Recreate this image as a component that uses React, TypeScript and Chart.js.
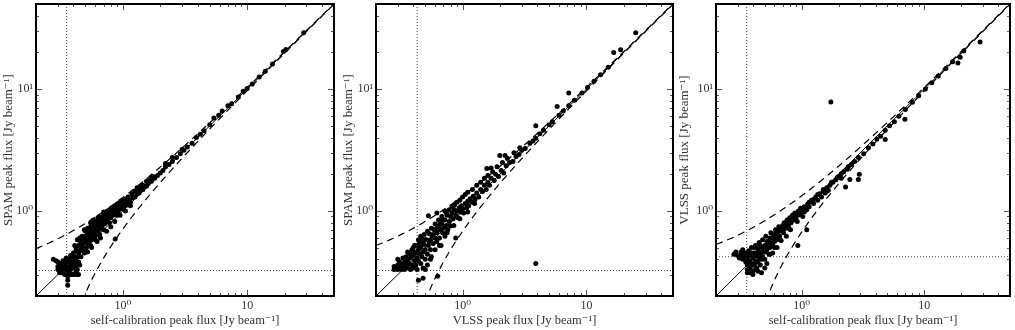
import React, { useEffect, useRef } from "react";
import { Chart, registerables } from "chart.js";

Chart.register(...registerables);

const AXIS_MIN = 0.2;
const AXIS_MAX = 50;
const MAJOR_TICKS = [1, 10];
const X_TICK_LABELS = ["10⁰", "10"];
const Y_TICK_LABELS = ["10⁰", "10¹"];
const MINOR_TICKS = [0.2, 0.3, 0.4, 0.5, 0.6, 0.7, 0.8, 0.9, 2, 3, 4, 5, 6, 7, 8, 9, 20, 30, 40, 50];

// Panel 1: self-calibration (x) vs SPAM (y)
const SELFCAL_VS_SPAM: number[][] = [
  [0.276, 0.4], [0.29, 0.39], [0.3, 0.35], [0.3, 0.33], [0.3, 0.38], [0.31, 0.36], [0.31, 0.34], [0.31, 0.31],
  [0.32, 0.37], [0.32, 0.33], [0.32, 0.31], [0.33, 0.35], [0.33, 0.39], [0.33, 0.37], [0.34, 0.33], [0.34, 0.36],
  [0.34, 0.3], [0.34, 0.34], [0.35, 0.34], [0.35, 0.38], [0.35, 0.41], [0.36, 0.32], [0.36, 0.29], [0.36, 0.27],
  [0.36, 0.245], [0.36, 0.38], [0.37, 0.35], [0.37, 0.31], [0.37, 0.4], [0.37, 0.34], [0.38, 0.33], [0.38, 0.37],
  [0.38, 0.43], [0.38, 0.3], [0.38, 0.39], [0.39, 0.35], [0.39, 0.3], [0.39, 0.42], [0.4, 0.38], [0.4, 0.3],
  [0.4, 0.45], [0.4, 0.36], [0.41, 0.34], [0.41, 0.3], [0.41, 0.52], [0.41, 0.42], [0.42, 0.4], [0.42, 0.36],
  [0.42, 0.47], [0.42, 0.32], [0.42, 0.5], [0.43, 0.3], [0.43, 0.33], [0.43, 0.58], [0.44, 0.42], [0.44, 0.38],
  [0.44, 0.3], [0.44, 0.45], [0.44, 0.52], [0.45, 0.47], [0.45, 0.36], [0.45, 0.6], [0.45, 0.53], [0.46, 0.52],
  [0.46, 0.42], [0.46, 0.48], [0.46, 0.57], [0.47, 0.56], [0.47, 0.47], [0.47, 0.62], [0.47, 0.52], [0.48, 0.5],
  [0.48, 0.6], [0.48, 0.55], [0.49, 0.45], [0.49, 0.58], [0.49, 0.7], [0.5, 0.55], [0.5, 0.62], [0.5, 0.68],
  [0.5, 0.48], [0.51, 0.5], [0.52, 0.58], [0.52, 0.66], [0.52, 0.72], [0.52, 0.46], [0.53, 0.53], [0.53, 0.6],
  [0.54, 0.62], [0.55, 0.57], [0.55, 0.68], [0.55, 0.74], [0.55, 0.52], [0.55, 0.8], [0.56, 0.64], [0.56, 0.5],
  [0.57, 0.6], [0.57, 0.68], [0.58, 0.7], [0.58, 0.78], [0.58, 0.84], [0.59, 0.65], [0.6, 0.62], [0.6, 0.74],
  [0.6, 0.82], [0.6, 0.58], [0.61, 0.72], [0.62, 0.68], [0.62, 0.8], [0.62, 0.56], [0.63, 0.75], [0.63, 0.88],
  [0.64, 0.7], [0.644, 0.9], [0.65, 0.84], [0.65, 0.64], [0.66, 0.73], [0.66, 0.78], [0.66, 0.6], [0.67, 0.8],
  [0.68, 0.76], [0.68, 0.88], [0.7, 0.82], [0.7, 0.92], [0.7, 0.7], [0.7, 0.98], [0.71, 0.78], [0.72, 0.86],
  [0.72, 0.8], [0.73, 0.96], [0.74, 0.82], [0.74, 0.68], [0.75, 0.9], [0.75, 1.0], [0.76, 0.86], [0.76, 0.94],
  [0.78, 0.93], [0.78, 1.02], [0.78, 0.8], [0.8, 0.88], [0.8, 0.98], [0.8, 0.74], [0.81, 0.96], [0.82, 1.06],
  [0.83, 0.92], [0.85, 1.0], [0.85, 1.08], [0.86, 0.82], [0.867, 0.587], [0.88, 0.96], [0.88, 1.1], [0.9, 1.05],
  [0.9, 1.14], [0.9, 0.92], [0.92, 1.0], [0.93, 1.16], [0.95, 1.1], [0.95, 0.92], [0.96, 1.2], [0.97, 1.04],
  [1.0, 1.12], [1.0, 1.22], [1.02, 1.08], [1.05, 1.18], [1.05, 1.25], [1.05, 1.0], [1.08, 1.12], [1.1, 1.3],
  [1.12, 1.22], [1.15, 1.18], [1.15, 1.1], [1.18, 1.38], [1.2, 1.28], [1.25, 1.3], [1.25, 1.45], [1.3, 1.38],
  [1.3, 1.55], [1.35, 1.4], [1.35, 1.52], [1.4, 1.48], [1.4, 1.6], [1.45, 1.5], [1.45, 1.62], [1.5, 1.58],
  [1.55, 1.6], [1.55, 1.75], [1.6, 1.68], [1.6, 1.78], [1.7, 1.75], [1.7, 1.88], [1.75, 1.92], [1.8, 1.85],
  [1.9, 1.95], [2.0, 2.05], [2.1, 2.15], [2.2, 2.3], [2.2, 2.45], [2.35, 2.4], [2.5, 2.55], [2.5, 2.75],
  [2.7, 2.75], [2.9, 2.95], [3.0, 3.2], [3.1, 3.15], [3.3, 3.35], [3.6, 3.6], [3.9, 4.0], [4.2, 4.25],
  [4.5, 4.55], [5.0, 5.1], [5.4, 5.8], [5.9, 6.1], [6.3, 6.6], [7.0, 7.3], [7.5, 7.6], [8.5, 8.6],
  [9.3, 9.6], [10, 10.1], [11, 11], [12.5, 12.6], [14, 14], [16, 16.1], [19.6, 20.4], [20.5, 21.2],
  [28.5, 29],
];

// Panel 2: VLSS (x) vs SPAM (y)
const VLSS_VS_SPAM: number[][] = [
  [0.28, 0.33], [0.28, 0.35], [0.29, 0.34], [0.3, 0.33], [0.3, 0.36], [0.3, 0.4], [0.31, 0.34], [0.31, 0.38],
  [0.32, 0.33], [0.32, 0.37], [0.33, 0.35], [0.33, 0.41], [0.34, 0.33], [0.34, 0.38], [0.35, 0.36], [0.35, 0.42],
  [0.35, 0.39], [0.36, 0.34], [0.36, 0.39], [0.36, 0.46], [0.37, 0.45], [0.37, 0.37], [0.38, 0.33], [0.38, 0.41],
  [0.38, 0.44], [0.39, 0.36], [0.39, 0.48], [0.4, 0.43], [0.4, 0.34], [0.4, 0.5], [0.41, 0.39], [0.41, 0.52],
  [0.41, 0.46], [0.42, 0.45], [0.42, 0.36], [0.43, 0.41], [0.43, 0.33], [0.43, 0.52], [0.44, 0.48], [0.44, 0.39],
  [0.44, 0.58], [0.45, 0.55], [0.45, 0.44], [0.45, 0.5], [0.44, 0.27], [0.46, 0.37], [0.46, 0.5], [0.46, 0.62],
  [0.47, 0.42], [0.47, 0.6], [0.47, 0.55], [0.48, 0.46], [0.48, 0.34], [0.48, 0.28], [0.49, 0.53], [0.49, 0.64],
  [0.5, 0.4], [0.5, 0.48], [0.5, 0.58], [0.5, 0.33], [0.51, 0.58], [0.52, 0.44], [0.52, 0.36], [0.52, 0.68],
  [0.53, 0.52], [0.53, 0.91], [0.54, 0.65], [0.54, 0.56], [0.55, 0.48], [0.55, 0.58], [0.55, 0.4], [0.56, 0.42],
  [0.56, 0.72], [0.57, 0.62], [0.58, 0.54], [0.58, 0.64], [0.59, 0.7], [0.6, 0.48], [0.6, 0.6], [0.6, 0.78],
  [0.62, 0.66], [0.62, 0.56], [0.62, 0.96], [0.62, 0.72], [0.63, 0.29], [0.64, 0.75], [0.64, 0.84], [0.65, 0.6],
  [0.65, 0.52], [0.66, 0.7], [0.66, 0.8], [0.67, 0.52], [0.68, 0.78], [0.68, 0.9], [0.69, 0.66], [0.7, 0.72],
  [0.7, 0.84], [0.72, 0.84], [0.72, 0.62], [0.72, 1.0], [0.74, 0.76], [0.74, 0.96], [0.75, 0.92], [0.75, 0.66],
  [0.76, 0.7], [0.78, 0.82], [0.78, 1.02], [0.8, 0.9], [0.8, 0.75], [0.82, 0.96], [0.82, 1.08], [0.84, 0.86],
  [0.85, 0.76], [0.86, 1.02], [0.86, 1.12], [0.88, 0.6], [0.88, 0.92], [0.9, 1.0], [0.9, 1.18], [0.92, 0.88],
  [0.94, 1.06], [0.95, 1.22], [0.95, 0.86], [0.96, 0.98], [0.98, 1.1], [1.0, 1.04], [1.0, 1.3], [1.02, 0.96],
  [1.05, 1.15], [1.05, 1.36], [1.08, 1.06], [1.1, 1.2], [1.1, 1.42], [1.1, 0.98], [1.12, 1.1], [1.15, 1.26],
  [1.2, 1.18], [1.2, 1.5], [1.22, 1.32], [1.25, 1.15], [1.26, 1.24], [1.3, 1.4], [1.3, 1.62], [1.35, 1.3],
  [1.4, 1.5], [1.4, 1.72], [1.45, 1.44], [1.5, 1.62], [1.5, 1.85], [1.55, 1.5], [1.57, 2.23], [1.6, 1.72],
  [1.6, 1.95], [1.65, 1.62], [1.7, 1.85], [1.7, 2.25], [1.75, 2.1], [1.8, 1.78], [1.85, 2.0], [1.9, 2.3],
  [1.95, 1.92], [2.0, 2.85], [2.2, 2.85], [2.05, 2.15], [2.1, 2.5], [2.15, 2.05], [2.25, 2.35], [2.3, 2.7],
  [2.4, 2.5], [2.55, 2.55], [2.6, 3.0], [2.7, 2.8], [2.85, 2.9], [2.9, 3.3], [3.0, 3.15], [3.2, 3.25],
  [3.5, 3.6], [3.7, 3.75], [3.9, 3.95], [3.9, 5.0], [3.9, 0.37], [4.2, 4.3], [4.5, 4.6], [5.0, 5.1],
  [5.3, 5.4], [5.8, 7.2], [6.0, 6.1], [6.5, 6.6], [7.2, 7.3], [7.2, 9.3], [8.0, 8.1], [9.2, 9.3],
  [10.2, 10.3], [11.5, 11.6], [13, 13.1], [15, 15.1], [16.6, 20], [18.9, 21.1], [25, 29],
];

// Panel 3: self-calibration (x) vs VLSS (y)
const SELFCAL_VS_VLSS: number[][] = [
  [0.28, 0.44], [0.29, 0.46], [0.3, 0.43], [0.31, 0.41], [0.32, 0.43], [0.32, 0.46], [0.33, 0.4], [0.33, 0.48],
  [0.34, 0.42], [0.34, 0.45], [0.35, 0.38], [0.35, 0.45], [0.35, 0.42], [0.36, 0.36], [0.36, 0.41], [0.36, 0.33],
  [0.36, 0.31], [0.37, 0.47], [0.37, 0.39], [0.37, 0.43], [0.38, 0.34], [0.38, 0.43], [0.38, 0.38], [0.38, 0.31],
  [0.39, 0.37], [0.39, 0.5], [0.39, 0.45], [0.4, 0.41], [0.4, 0.32], [0.4, 0.36], [0.4, 0.3], [0.41, 0.45],
  [0.41, 0.36], [0.41, 0.5], [0.42, 0.39], [0.42, 0.52], [0.42, 0.43], [0.42, 0.33], [0.43, 0.43], [0.43, 0.34],
  [0.43, 0.38], [0.44, 0.47], [0.44, 0.38], [0.44, 0.5], [0.44, 0.32], [0.45, 0.41], [0.45, 0.55], [0.45, 0.46],
  [0.46, 0.44], [0.46, 0.36], [0.46, 0.52], [0.47, 0.31], [0.47, 0.5], [0.47, 0.4], [0.48, 0.42], [0.48, 0.58],
  [0.48, 0.5], [0.49, 0.46], [0.5, 0.4], [0.5, 0.52], [0.5, 0.46], [0.5, 0.34], [0.51, 0.62], [0.52, 0.48],
  [0.52, 0.37], [0.52, 0.56], [0.53, 0.55], [0.53, 0.5], [0.54, 0.44], [0.55, 0.6], [0.55, 0.5], [0.55, 0.55],
  [0.55, 0.44], [0.56, 0.66], [0.57, 0.54], [0.57, 0.6], [0.58, 0.45], [0.58, 0.52], [0.59, 0.62], [0.6, 0.56],
  [0.6, 0.64], [0.6, 0.5], [0.61, 0.7], [0.62, 0.6], [0.62, 0.66], [0.63, 0.5], [0.63, 0.58], [0.64, 0.66],
  [0.65, 0.74], [0.65, 0.68], [0.66, 0.62], [0.67, 0.7], [0.68, 0.57], [0.68, 0.72], [0.7, 0.76], [0.7, 0.68],
  [0.71, 0.66], [0.72, 0.8], [0.72, 0.76], [0.74, 0.72], [0.75, 0.62], [0.75, 0.78], [0.76, 0.84], [0.78, 0.76],
  [0.78, 0.72], [0.8, 0.88], [0.8, 0.8], [0.81, 0.7], [0.82, 0.8], [0.83, 0.86], [0.84, 0.92], [0.86, 0.84],
  [0.86, 0.9], [0.88, 0.96], [0.9, 0.88], [0.9, 0.94], [0.92, 0.82], [0.93, 0.52], [0.94, 1.0], [0.95, 0.96],
  [0.96, 0.93], [0.98, 1.05], [1.0, 0.98], [1.0, 1.04], [1.02, 0.9], [1.05, 1.08], [1.05, 0.98], [1.1, 0.7],
  [1.1, 1.02], [1.12, 1.14], [1.15, 1.08], [1.15, 1.18], [1.2, 1.22], [1.25, 1.15], [1.25, 1.24], [1.3, 1.3],
  [1.35, 1.22], [1.35, 1.36], [1.4, 1.38], [1.45, 1.3], [1.5, 1.45], [1.5, 1.5], [1.55, 1.4], [1.6, 1.55],
  [1.6, 1.45], [1.65, 1.48], [1.7, 1.62], [1.73, 7.85], [1.75, 1.72], [1.8, 1.72], [1.9, 1.8], [1.95, 1.88],
  [2.0, 1.92], [2.1, 1.85], [2.1, 2.02], [2.2, 2.1], [2.28, 1.57], [2.35, 2.2], [2.4, 2.3], [2.47, 1.81],
  [2.55, 2.4], [2.7, 2.55], [2.9, 1.81], [2.95, 2.0], [2.9, 2.75], [3.2, 2.95], [3.5, 3.3], [3.8, 3.55],
  [4.1, 3.9], [4.4, 4.1], [4.8, 3.85], [4.8, 4.6], [5.2, 5.0], [5.7, 5.4], [6.2, 6.0], [6.95, 5.66],
  [7.0, 6.8], [8.0, 7.8], [9.0, 8.8], [10.2, 10], [11.5, 11.3], [13, 12.8], [15, 14.8], [17, 16.8],
  [18.8, 16.4], [19.6, 18.3], [21, 20.6], [28.5, 24.4],
];

// Per-panel model/limit parameters
const ERROR_OFFSETS = [0.29, 0.32, 0.33];
const X_LIMITS = [0.353, 0.43, 0.356];
const Y_LIMITS = [0.324, 0.324, 0.42];
const X_TITLES = [
  "self-calibration peak flux [Jy beam⁻¹]",
  "VLSS peak flux [Jy beam⁻¹]",
  "self-calibration peak flux [Jy beam⁻¹]",
];
const Y_TITLES = [
  "SPAM peak flux [Jy beam⁻¹]",
  "SPAM peak flux [Jy beam⁻¹]",
  "VLSS peak flux [Jy beam⁻¹]",
];
const PANEL_DATA = [SELFCAL_VS_SPAM, VLSS_VS_SPAM, SELFCAL_VS_VLSS];

const FONT_FAMILY = "'Liberation Serif', 'DejaVu Serif', serif";

function offsetCurve(c: number, sign: number) {
  const pts: { x: number; y: number }[] = [];
  const start = sign > 0 ? AXIS_MIN : c + AXIS_MIN * 0.9;
  const n = 240;
  const l0 = Math.log10(start);
  const l1 = Math.log10(AXIS_MAX);
  for (let i = 0; i <= n; i++) {
    const x = Math.pow(10, l0 + ((l1 - l0) * i) / n);
    const y = x + sign * c;
    if (y > 0) pts.push({ x, y });
  }
  return pts;
}

const frameTicksPlugin = {
  id: "frameTicks",
  afterDraw(chart: any) {
    const { ctx, chartArea: a, scales } = chart;
    const xs = scales.x;
    const ys = scales.y;
    ctx.save();
    ctx.strokeStyle = "#555";
    ctx.lineWidth = 1;
    const all = [...MINOR_TICKS, ...MAJOR_TICKS];
    for (const v of all) {
      const len = MAJOR_TICKS.includes(v) ? 6 : 3;
      const px = Math.round(xs.getPixelForValue(v)) + 0.5;
      const py = Math.round(ys.getPixelForValue(v)) + 0.5;
      ctx.beginPath();
      if (px > a.left + 1 && px < a.right - 1) {
        ctx.moveTo(px, a.bottom);
        ctx.lineTo(px, a.bottom - len);
        ctx.moveTo(px, a.top);
        ctx.lineTo(px, a.top + len);
      }
      if (py > a.top + 1 && py < a.bottom - 1) {
        ctx.moveTo(a.left, py);
        ctx.lineTo(a.left + len, py);
        ctx.moveTo(a.right, py);
        ctx.lineTo(a.right - len, py);
      }
      ctx.stroke();
    }
    ctx.strokeStyle = "#000";
    ctx.lineWidth = 2;
    ctx.strokeRect(a.left, a.top, a.right - a.left, a.bottom - a.top);
    ctx.restore();
  },
};

type PanelProps = {
  index: number;
  left: number;
  width: number;
  yAxisWidth: number;
  padRight: number;
};

function Panel({ index, left, width, yAxisWidth, padRight }: PanelProps) {
  const ref = useRef<HTMLCanvasElement | null>(null);
  useEffect(() => {
    const canvas = ref.current;
    if (!canvas) return;
    const c = ERROR_OFFSETS[index];
    const xl = X_LIMITS[index];
    const yl = Y_LIMITS[index];
    const pts = PANEL_DATA[index].map(([x, y]) => ({ x, y }));
    const chart = new Chart(canvas, {
      type: "scatter",
      data: {
        datasets: [
          {
            data: pts,
            pointRadius: 2.5,
            pointBackgroundColor: "#000",
            pointBorderWidth: 0,
            showLine: false,
          },
          {
            data: [{ x: AXIS_MIN, y: AXIS_MIN }, { x: AXIS_MAX, y: AXIS_MAX }],
            showLine: true,
            borderColor: "#000",
            borderWidth: 1,
            pointRadius: 0,
          },
          {
            data: offsetCurve(c, 1),
            showLine: true,
            borderColor: "#000",
            borderWidth: 1.2,
            borderDash: [7, 5],
            pointRadius: 0,
          },
          {
            data: offsetCurve(c, -1),
            showLine: true,
            borderColor: "#000",
            borderWidth: 1.2,
            borderDash: [7, 5],
            pointRadius: 0,
          },
          {
            data: [{ x: xl, y: AXIS_MIN }, { x: xl, y: AXIS_MAX }],
            showLine: true,
            borderColor: "#444",
            borderWidth: 1,
            borderDash: [1, 2],
            pointRadius: 0,
          },
          {
            data: [{ x: AXIS_MIN, y: yl }, { x: AXIS_MAX, y: yl }],
            showLine: true,
            borderColor: "#444",
            borderWidth: 1,
            borderDash: [1, 2],
            pointRadius: 0,
          },
        ],
      },
      options: {
        animation: false,
        responsive: false,
        devicePixelRatio: 1,
        layout: { padding: { left: 0, right: padRight, top: 1, bottom: 0 } },
        plugins: { legend: { display: false }, tooltip: { enabled: false } },
        scales: {
          x: {
            type: "logarithmic",
            min: AXIS_MIN,
            max: AXIS_MAX,
            grid: { display: false, drawTicks: false },
            border: { display: false },
            afterBuildTicks: (scale: any) => {
              scale.ticks = MAJOR_TICKS.map((v) => ({ value: v }));
            },
            afterFit: (scale: any) => {
              scale.height = 34;
              scale.paddingLeft = 0;
              scale.paddingRight = 0;
            },
            ticks: {
              autoSkip: false,
              maxRotation: 0,
              padding: 3,
              color: "#333",
              font: { family: FONT_FAMILY, size: 12 },
              callback: (v: any) => {
                const i = MAJOR_TICKS.indexOf(Number(v));
                return i >= 0 ? X_TICK_LABELS[i] : "";
              },
            },
            title: {
              display: true,
              text: X_TITLES[index],
              color: "#333",
              padding: { top: 0, bottom: 2 },
              font: { family: FONT_FAMILY, size: 12.5 },
            },
          },
          y: {
            type: "logarithmic",
            min: AXIS_MIN,
            max: AXIS_MAX,
            grid: { display: false, drawTicks: false },
            border: { display: false },
            afterBuildTicks: (scale: any) => {
              scale.ticks = MAJOR_TICKS.map((v) => ({ value: v }));
            },
            afterFit: (scale: any) => {
              scale.width = yAxisWidth;
              scale.paddingTop = 0;
              scale.paddingBottom = 0;
            },
            ticks: {
              autoSkip: false,
              padding: 3,
              color: "#333",
              font: { family: FONT_FAMILY, size: 12 },
              callback: (v: any) => {
                const i = MAJOR_TICKS.indexOf(Number(v));
                return i >= 0 ? Y_TICK_LABELS[i] : "";
              },
            },
            title: {
              display: true,
              text: Y_TITLES[index],
              color: "#333",
              padding: { top: 1, bottom: 0 },
              font: { family: FONT_FAMILY, size: 13 },
            },
          },
        },
      },
      plugins: [frameTicksPlugin],
    } as any);
    return () => chart.destroy();
  }, [index, yAxisWidth, padRight]);
  return (
    <canvas
      ref={ref}
      width={width}
      height={330}
      style={{ position: "absolute", left, top: 0, width, height: 330 }}
    />
  );
}

export default function App() {
  return (
    <div
      style={{
        position: "absolute",
        left: 0,
        top: 0,
        width: 1015,
        height: 330,
        background: "#fff",
        overflow: "hidden",
      }}
    >
      <Panel index={0} left={0} width={338} yAxisWidth={36} padRight={4} />
      <Panel index={1} left={340} width={338} yAxisWidth={36} padRight={5} />
      <Panel index={2} left={676} width={339} yAxisWidth={40} padRight={5} />
    </div>
  );
}
